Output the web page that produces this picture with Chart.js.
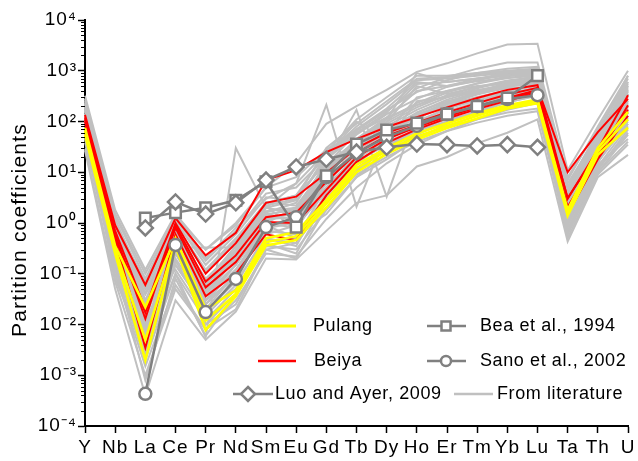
<!DOCTYPE html>
<html>
<head>
<meta charset="utf-8">
<script src="https://cdn.jsdelivr.net/npm/chart.js@4.4.1/dist/chart.umd.min.js"></script>
<style>
  html, body { margin: 0; padding: 0; background: #ffffff; }
  #wrap { width: 638px; height: 461px; }
</style>
</head>
<body>
<div id="wrap"><canvas id="chart" width="638" height="461"></canvas></div>
<script>
// Elements on the x axis
const elements = ['Y', 'Nb', 'La', 'Ce', 'Pr', 'Nd', 'Sm', 'Eu', 'Gd', 'Tb', 'Dy', 'Ho', 'Er', 'Tm', 'Yb', 'Lu', 'Ta', 'Th', 'U'];

// Log-axis decades and their labels
const decadeTicks = [1e-4, 1e-3, 1e-2, 1e-1, 1, 10, 100, 1000, 10000];
const decadeLabels = ['10⁻⁴', '10⁻³', '10⁻²', '10⁻¹', '10⁰', '10¹', '10²', '10³', '10⁴'];

const yTitle = 'Partition coefficients';

// Zircon partition coefficients, Pulang samples
const pulang = [
  [75, 0.35, 0.022, 0.50, 0.020, 0.047, 0.50, 0.66, 2.8, 14, 30, 58, 92, 145, 210, 270, 1.8, 30, 155],
  [55, 0.25, 0.002, 0.35, 0.0078, 0.036, 0.36, 0.46, 2.0, 10, 23, 44, 74, 115, 180, 230, 1.4, 22, 75],
  [65, 0.30, 0.005, 0.42, 0.012, 0.040, 0.42, 0.55, 2.4, 12, 26, 50, 82, 130, 195, 250, 1.6, 26, 110]
];

// Beiya samples
const beiya = [
  [135, 0.90, 0.060, 1.25, 0.23, 0.64, 7.0, 11, 25, 45, 78, 122, 190, 290, 420, 520, 3.0, 28, 330],
  [100, 0.70, 0.020, 1.00, 0.10, 0.40, 2.5, 3.3, 9.7, 30, 60, 95, 150, 230, 340, 460, 10, 62, 280],
  [120, 0.60, 0.013, 0.90, 0.07, 0.23, 1.3, 1.6, 6.5, 24, 52, 85, 135, 200, 290, 420, 2.1, 20, 210],
  [90, 0.50, 0.017, 0.80, 0.054, 0.17, 1.05, 1.0, 4.5, 20, 45, 78, 125, 190, 280, 390, 3.1, 25, 170],
  [110, 0.45, 0.0035, 0.60, 0.036, 0.10, 0.60, 0.46, 3.5, 16, 38, 70, 115, 175, 260, 360, 1.5, 18, 130]
];

// Reference sets (null where not reported)
const bea1994 = [null, null, 1.25, 1.6, 2.0, 2.8, 6.5, 0.83, 8.5, 36, 68, 93, 140, 200, 290, 800, null, null, null];
const sano2002 = [null, null, 0.00043, 0.37, 0.0176, 0.079, 0.83, 1.3, 8.0, 24, 50, 82, 140, 200, 277, 330, null, null, null];
const luoAyer2009 = [null, null, 0.80, 2.6, 1.5, 2.5, 7.0, 12.7, 18, 25, 31, 36, 35, 33, 35, 31, null, null, null];

// Compiled zircon data from the literature
const literature = [
  [320, 1.8, 0.12, 1.5, 0.30, 0.9, 5.0, 15, 90, 200, 420, 950, 1400, 2200, 3300, 3400, 11, 110, 1000],
  [260, 1.4, 0.08, 1.2, 0.20, 0.8, 3.0, 6.0, 25, 70, 160, 450, 750, 1100, 1450, 1450, 8, 70, 600],
  [180, 0.9, 0.05, 0.9, 0.12, 0.5, 2.5, 3.5, 15, 40, 110, 900, 600, 700, 800, 900, 4, 45, 450],
  [200, 1.1, 0.06, 1.1, 0.15, 0.6, 3.2, 2.8, 18, 55, 140, 280, 480, 650, 850, 950, 6, 55, 500],
  [170, 0.8, 0.04, 0.8, 0.11, 0.45, 2.6, 2.2, 12, 45, 110, 230, 400, 560, 720, 850, 4.5, 40, 380],
  [140, 0.6, 0.025, 0.7, 0.08, 0.3, 2.0, 1.5, 10, 38, 90, 190, 330, 480, 640, 750, 3.5, 30, 260],
  [110, 0.45, 0.015, 0.5, 0.05, 0.22, 1.4, 1.2, 7, 28, 70, 150, 270, 400, 560, 680, 2.5, 25, 200],
  [90, 0.35, 0.01, 0.35, 0.035, 0.15, 1.0, 0.8, 5, 20, 55, 120, 220, 340, 480, 600, 2.0, 20, 150],
  [70, 0.25, 0.006, 0.25, 0.025, 0.1, 0.7, 0.6, 3.5, 15, 42, 95, 180, 280, 400, 500, 1.5, 16, 110],
  [55, 0.18, 0.004, 0.18, 0.018, 0.07, 0.5, 0.4, 2.5, 11, 32, 75, 140, 220, 320, 420, 1.1, 13, 80],
  [40, 0.12, 0.002, 0.1, 0.012, 0.05, 0.35, 0.3, 1.8, 8, 24, 55, 100, 160, 240, 320, 0.8, 10, 55],
  [30, 0.07, 0.001, 0.05, 0.008, 0.03, 0.25, 0.22, 1.2, 5, 15, 35, 65, 110, 170, 230, 0.5, 9, 35],
  [27, 0.05, 0.0004, 0.03, 0.005, 0.018, 0.2, 0.19, 0.7, 2.5, 3.5, 13, 20, 37, 60, 110, 0.43, 8, 22],
  [160, 0.3, 0.008, 0.4, 0.04, 0.2, 1.5, 1.8, 9, 30, 75, 140, 220, 300, 380, 420, 1.2, 18, 120],
  [130, 1.2, 0.05, 0.3, 0.03, 0.12, 0.8, 1.0, 6, 25, 65, 130, 240, 380, 550, 700, 5, 50, 400],
  [100, 0.9, 0.03, 0.15, 0.02, 0.1, 0.9, 0.5, 5, 22, 60, 125, 230, 360, 520, 640, 3, 28, 350],
  [80, 0.6, 0.012, 0.9, 0.07, 0.35, 2.2, 0.7, 8, 20, 40, 70, 110, 150, 200, 250, 2.2, 22, 90],
  [210, 0.4, 0.002, 0.6, 0.01, 0.04, 0.4, 0.25, 3, 14, 45, 110, 230, 380, 560, 700, 1.0, 15, 180],
  [65, 0.2, 0.02, 0.12, 0.015, 0.06, 0.6, 0.9, 4, 12, 28, 50, 80, 110, 150, 180, 0.9, 12, 60],
  [120, 0.15, 0.0008, 0.08, 0.006, 0.04, 0.5, 0.35, 4, 18, 50, 100, 180, 260, 360, 430, 0.7, 11, 70],
  [95, 0.08, 0.003, 0.5, 0.01, 0.025, 0.3, 0.2, 2, 10, 30, 70, 140, 230, 350, 470, 0.6, 14, 45],
  [190, 1.5, 0.1, 1.3, 0.3, 1.0, 5, 8, 28, 60, 120, 210, 320, 420, 520, 600, 7, 80, 800],
  [60, 0.3, 0.003, 0.1, 0.0056, 30, 2.0, 1.5, 6, 16, 35, 65, 100, 140, 190, 230, 1.6, 18, 100],
  [75, 0.5, 0.04, 0.33, 0.33, 0.33, 1.2, 1.3, 7, 25, 60, 120, 200, 300, 420, 520, 2.8, 30, 250],
  [45, 0.1, 0.0015, 0.06, 0.008, 0.02, 0.3, 0.4, 2.5, 9, 20, 40, 65, 95, 130, 160, 0.6, 10, 40],
  [230, 1.0, 0.07, 1.0, 0.18, 0.7, 3.8, 5, 20, 70, 180, 600, 500, 700, 900, 1100, 5, 60, 700],
  [100, 0.7, 0.02, 0.45, 0.05, 0.18, 1.1, 1.8, 12, 35, 95, 500, 350, 480, 600, 700, 3, 40, 300],
  [85, 0.25, 0.007, 0.3, 0.03, 0.08, 0.9, 1.0, 20, 100, 40, 250, 300, 400, 500, 550, 1.3, 20, 130],
  [140, 0.5, 0.01, 0.2, 0.025, 0.09, 0.7, 0.6, 1.5, 8, 18, 45, 90, 150, 240, 330, 1.0, 16, 90],
  [50, 0.15, 0.0025, 0.15, 0.02, 0.05, 0.45, 0.5, 3, 12, 32, 65, 120, 190, 280, 360, 0.9, 24, 160],
  [110, 0.35, 0.015, 0.35, 0.04, 0.15, 1.3, 1.5, 9, 32, 80, 170, 300, 450, 620, 780, 2.2, 26, 230],
  [60, 0.45, 0.009, 0.25, 0.03, 0.12, 0.8, 1.2, 5, 18, 45, 90, 160, 240, 330, 400, 1.8, 35, 200],
  [170, 0.55, 0.018, 0.55, 0.06, 0.25, 1.7, 2.0, 11, 40, 100, 210, 370, 560, 780, 950, 4, 45, 330],
  [120, 0.5, 0.02, 0.4, 0.045, 0.2, 2.0, 6, 213, 2.1, 60, 300, 400, 500, 550, 600, 2.5, 25, 200],
  [90, 0.3, 0.01, 0.3, 0.03, 0.12, 1.0, 2.0, 15, 170, 3.3, 150, 250, 350, 450, 500, 1.5, 20, 150],
  [280, 1.0, 0.03, 0.7, 0.06, 0.3, 2.2, 3.0, 30, 90, 250, 700, 750, 850, 950, 1050, 4, 50, 600],
  [220, 0.8, 0.02, 0.5, 0.05, 0.25, 1.6, 2.5, 22, 80, 220, 650, 700, 800, 900, 1000, 3.5, 40, 500],
  [160, 0.6, 0.015, 0.6, 0.04, 0.2, 1.4, 2.0, 14, 60, 150, 550, 600, 700, 800, 850, 3, 35, 420],
  [240, 0.9, 0.04, 0.8, 0.07, 0.35, 2.4, 3.5, 25, 110, 300, 800, 800, 900, 1000, 1100, 5, 65, 800],
  [130, 0.5, 0.01, 0.4, 0.03, 0.15, 1.2, 1.6, 10, 45, 120, 400, 500, 620, 720, 800, 2.5, 30, 350],
  [190, 0.7, 0.025, 0.65, 0.06, 0.28, 2.0, 2.8, 18, 65, 170, 380, 650, 900, 1100, 1200, 4.5, 45, 550]
];

const FONT = "'Liberation Sans', Arial, Helvetica, sans-serif";
const GRAY_LIT = '#c0c0c0';
const GRAY_REF = '#808080';

function lineSet(rows, label, color, width, order) {
  return rows.map(r => ({
    label: label, data: r, borderColor: color, borderWidth: width,
    pointRadius: 0, fill: false, tension: 0, order: order
  }));
}

function refSet(values, label, style, radius) {
  return {
    label: label, data: values, borderColor: GRAY_REF, borderWidth: 2.5,
    pointStyle: style, pointRadius: radius, pointBorderWidth: 2.5,
    pointBorderColor: GRAY_REF, pointBackgroundColor: '#ffffff',
    fill: false, tension: 0, order: 0, spanGaps: false
  };
}

const datasets = [
  refSet(luoAyer2009, 'Luo and Ayer, 2009', 'rectRot', 7.5),
  refSet(bea1994, 'Bea et al., 1994', 'rect', 7.5),
  refSet(sano2002, 'Sano et al., 2002', 'circle', 6),
  ...lineSet(pulang, 'Pulang', '#ffff00', 2.6, 1),
  ...lineSet(beiya, 'Beiya', '#ff0000', 2, 2),
  ...lineSet(literature, 'From literature', GRAY_LIT, 2, 3)
];

// Slightly wider text spacing for all labels
const textSpacing = {
  id: 'textSpacing',
  beforeDraw(chart) { chart.ctx.letterSpacing = '1px'; }
};

// Short minor ticks on the log axis, plus the rotated axis title
const axisExtras = {
  id: 'axisExtras',
  afterDraw(chart) {
    const y = chart.scales.y, ctx = chart.ctx, x0 = chart.chartArea.left;
    ctx.save();
    ctx.strokeStyle = '#000';
    ctx.lineWidth = 1;
    for (let d = -4; d < 4; d++) {
      for (let k = 2; k <= 9; k++) {
        const py = Math.round(y.getPixelForValue(k * Math.pow(10, d))) + 0.5;
        ctx.beginPath();
        ctx.moveTo(x0 - 4, py);
        ctx.lineTo(x0, py);
        ctx.stroke();
      }
    }
    ctx.translate(20, 230);
    ctx.rotate(-Math.PI / 2);
    ctx.font = '21px ' + FONT;
    ctx.letterSpacing = '1.2px';
    ctx.fillStyle = '#000';
    ctx.textAlign = 'center';
    ctx.textBaseline = 'middle';
    ctx.fillText(yTitle, 0, 0);
    ctx.restore();
  }
};

// Legend drawn inside the plot area
const innerLegend = {
  id: 'innerLegend',
  afterDraw(chart) {
    const ctx = chart.ctx;
    ctx.save();
    ctx.font = '18px ' + FONT;
    ctx.letterSpacing = '0.6px';
    ctx.fillStyle = '#000';
    ctx.textBaseline = 'middle';
    ctx.textAlign = 'left';
    const seg = (x1, x2, y, color, w) => {
      ctx.strokeStyle = color; ctx.lineWidth = w;
      ctx.beginPath(); ctx.moveTo(x1, y); ctx.lineTo(x2, y); ctx.stroke();
    };
    const marker = (style, x, y, r) => {
      ctx.fillStyle = '#fff'; ctx.strokeStyle = GRAY_REF; ctx.lineWidth = 2.5;
      ctx.beginPath();
      if (style === 'rect') { ctx.rect(x - r, y - r, 2 * r, 2 * r); }
      else if (style === 'circle') { ctx.arc(x, y, r, 0, Math.PI * 2); }
      else { ctx.moveTo(x, y - r); ctx.lineTo(x + r, y); ctx.lineTo(x, y + r); ctx.lineTo(x - r, y); ctx.closePath(); }
      ctx.fill(); ctx.stroke();
      ctx.fillStyle = '#000';
    };
    // row 1
    seg(258, 296, 326, '#ffff00', 3);
    ctx.fillText('Pulang', 313, 326);
    seg(427, 466, 326, GRAY_REF, 2.5);
    marker('rect', 446, 326, 4.5);
    ctx.fillText('Bea et al., 1994', 480, 326);
    // row 2
    seg(258, 296, 361, '#ff0000', 2.5);
    ctx.fillText('Beiya', 314, 361);
    seg(427, 466, 361, GRAY_REF, 2.5);
    marker('circle', 446, 361, 5);
    ctx.fillText('Sano et al., 2002', 480, 361);
    // row 3
    seg(233, 273, 394, GRAY_REF, 2.5);
    marker('diamond', 248, 394, 7);
    ctx.fillText('Luo and Ayer, 2009', 275, 394);
    seg(454, 493, 394, GRAY_LIT, 2.5);
    ctx.fillText('From literature', 497, 394);
    ctx.restore();
  }
};

new Chart(document.getElementById('chart'), {
  type: 'line',
  data: { labels: elements, datasets: datasets },
  options: {
    responsive: false,
    animation: false,
    devicePixelRatio: 1,
    layout: { padding: { top: 20, right: 5, left: 0, bottom: 0 } },
    plugins: { legend: { display: false }, tooltip: { enabled: false } },
    scales: {
      x: {
        type: 'category',
        offset: false,
        grid: { drawOnChartArea: false, drawTicks: true, tickLength: 7, tickColor: '#000', tickWidth: 1.5 },
        border: { display: true, color: '#000', width: 2 },
        ticks: { color: '#000', font: { family: FONT, size: 19 }, padding: 3, maxRotation: 0, autoSkip: false },
        afterFit(scale) { scale.height = 35; }
      },
      y: {
        type: 'logarithmic',
        min: 1e-4,
        max: 1e4,
        afterBuildTicks(scale) { scale.ticks = decadeTicks.map(v => ({ value: v, major: true })); },
        grid: { drawOnChartArea: false, drawTicks: true, tickLength: 7, tickColor: '#000', tickWidth: 1.5 },
        border: { display: true, color: '#000', width: 2 },
        ticks: {
          color: '#000', font: { family: FONT, size: 19 }, padding: 1,
          callback(value) {
            const i = decadeTicks.findIndex(t => Math.abs(Math.log10(t) - Math.log10(value)) < 1e-6);
            return i >= 0 ? decadeLabels[i] : '';
          }
        },
        afterFit(scale) { scale.width = 85; }
      }
    }
  },
  plugins: [textSpacing, axisExtras, innerLegend]
});
</script>
</body>
</html>
